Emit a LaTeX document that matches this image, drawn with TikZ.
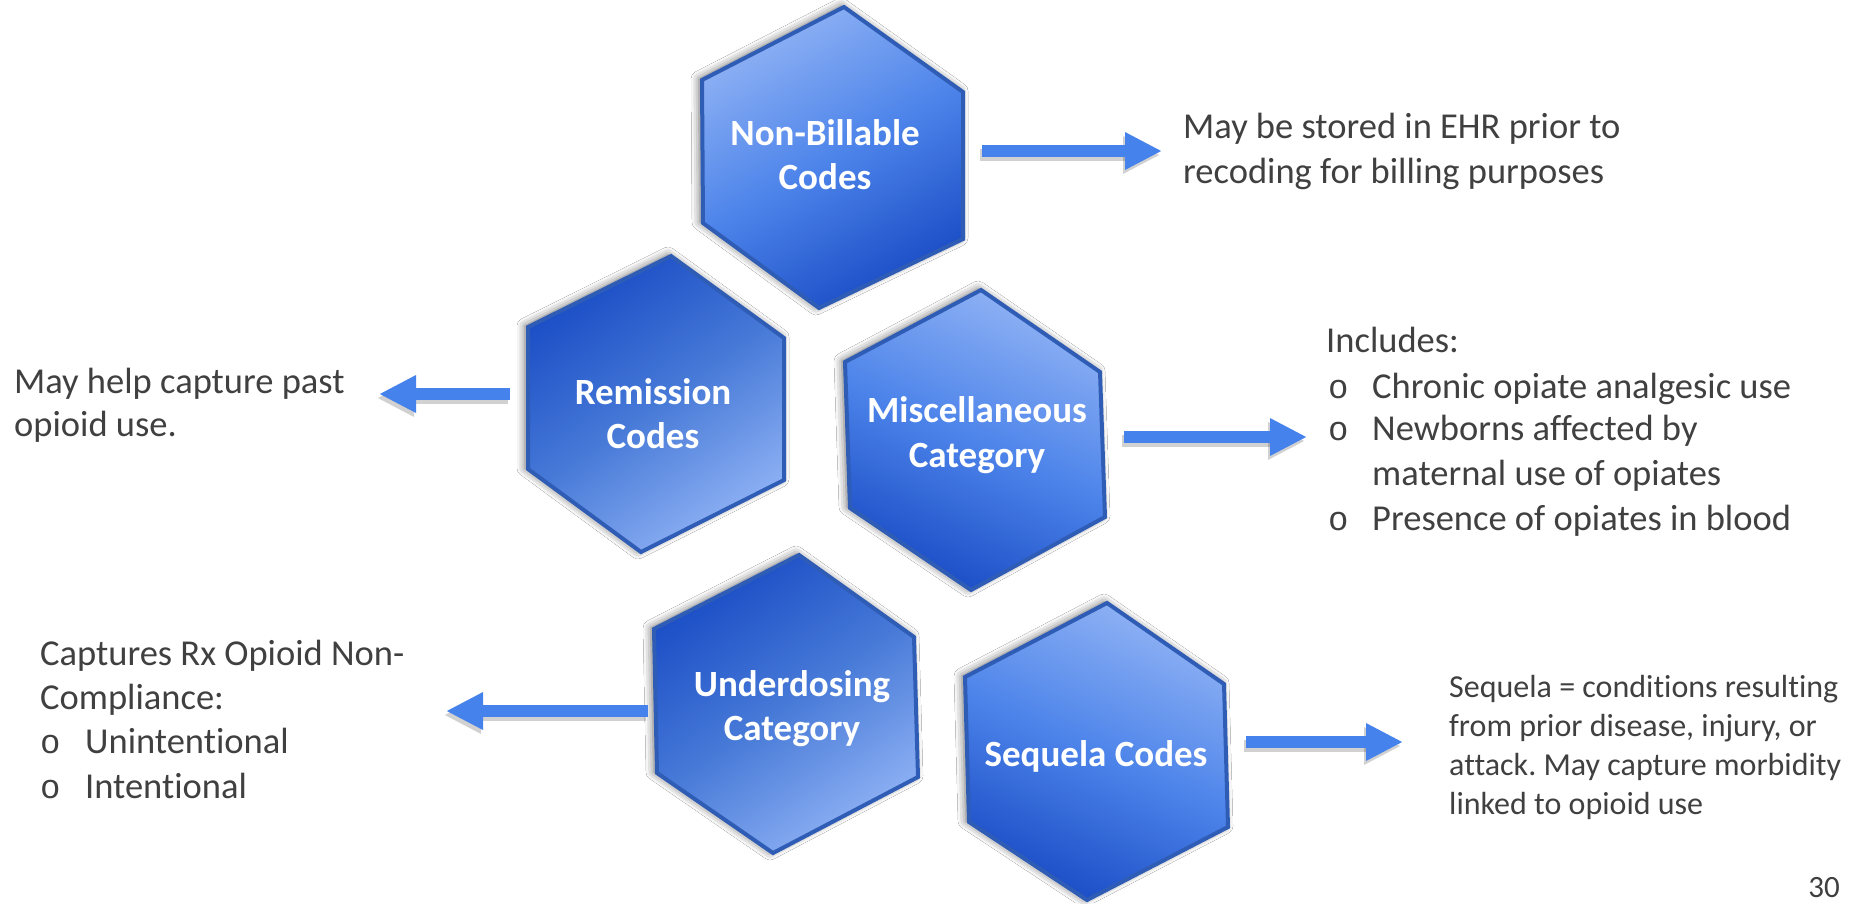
\documentclass[tikz,border=0pt]{standalone}
\usepackage{fontspec}
\setmainfont{Carlito}[Ligatures={NoCommon}]
\newfontfamily\bulletfont{Liberation Mono}
\usetikzlibrary{arrows.meta,shadows.blur}
\definecolor{txt}{HTML}{404040}
\definecolor{arr}{HTML}{4682EC}
\definecolor{hexedge}{HTML}{2F5DB6}
\definecolor{hlight}{HTML}{8EB1F4}
\definecolor{hmid}{HTML}{4D84EA}
\definecolor{hdark}{HTML}{1B4DC6}
\frenchspacing
\begin{document}
\begin{tikzpicture}[x=1pt,y=-1pt,
  hexa/.style={draw=hexedge, line width=4pt, line join=miter,
    blur shadow={shadow xshift=-3pt, shadow yshift=1pt, shadow blur radius=8pt, shadow opacity=60}},
  shadeA/.style={top color=hlight, bottom color=hdark, middle color=hmid, shading angle=30},
  shadeB/.style={top color=hdark, bottom color=hlight, middle color=hmid!92!black, shading angle=35},
  shadeC/.style={top color=hlight, bottom color=hdark, middle color=hmid, shading angle=-25},
  hextxt/.style={text=white, font=\bfseries\fontsize{37}{44}\selectfont, anchor=base, inner sep=0pt},
  body/.style={text=txt, font=\fontsize{36.5}{44}\selectfont, anchor=base west, inner sep=0pt},
  small/.style={text=txt, font=\fontsize{32}{39}\selectfont, anchor=base west, inner sep=0pt},
  bul/.style={text=txt, font=\bulletfont\fontsize{34}{40}\selectfont, anchor=base west, inner sep=0pt},
  blockarrow/.style={draw=arr, line width=12pt, -{Triangle[length=37pt, width=35pt]}}
]
\fill[white] (0,0) rectangle (1854,903);
\useasboundingbox (0,0) rectangle (1854,903);

% hexagons
\draw[hexa, shadeA] (844,7) -- (963,92) -- (963,239) -- (819,308) -- (703,223) -- (702,80) -- cycle;
\draw[hexa, shadeB] (671,256) -- (784,338) -- (784,480) -- (641,552) -- (528,469) -- (528,327) -- cycle;
\draw[hexa, shadeC] (981,290) -- (1100,372) -- (1105,517) -- (971,590) -- (850,508) -- (845,362) -- cycle;
\draw[hexa, shadeB] (799,555) -- (914,637) -- (918,777) -- (773,853) -- (657,773) -- (654,629) -- cycle;
\draw[hexa, shadeC] (1107,603) -- (1224,684) -- (1228,827) -- (1087,900) -- (969,822) -- (965,677) -- cycle;

% hexagon labels
\node[hextxt] (nb1) at (825,145) {Non-Billable};
\node[hextxt] (nb2) at (825,189) {Codes};
\node[hextxt] (rm1) at (653,404) {Remission};
\node[hextxt] (rm2) at (653,448) {Codes};
\node[hextxt] (mc1) at (977,422) {Miscellaneous};
\node[hextxt] (mc2) at (977,467) {Category};
\node[hextxt] (ud1) at (792,696) {Underdosing};
\node[hextxt] (ud2) at (792,740) {Category};
\node[hextxt] (sq1) at (1096,766) {Sequela Codes};

% arrows
\coordinate (nbA) at (982,151);  \coordinate (nbB) at (1162,151);
\coordinate (rmA) at (510,394);  \coordinate (rmB) at (379,394);
\coordinate (mcA) at (1124,437); \coordinate (mcB) at (1307,437);
\coordinate (udA) at (648,711);  \coordinate (udB) at (446,711);
\coordinate (sqA) at (1246,742); \coordinate (sqB) at (1403,742);
\foreach \a/\b in {nbA/nbB, rmA/rmB, mcA/mcB, udA/udB, sqA/sqB}{
  \draw[blockarrow, draw=black, opacity=0.18, transform canvas={shift={(-2pt,-4pt)}}] (\a) -- (\b);
  \draw[blockarrow] (\a) -- (\b);
}

% texts
\node[body] (t1) at (1183,138) {May be stored in EHR prior to};
\node[body] (t2) at (1183,183) {recoding for billing purposes};

\node[body] (r1) at (14,393) {May help capture past};
\node[body] (r2) at (14,436) {opioid use.};

\node[body] (m0) at (1326,352) {Includes:};
\node[bul]  (mb1) at (1328,398) {o};
\node[body] (m1) at (1372,398) {Chronic opiate analgesic use};
\node[bul]  (mb2) at (1328,440) {o};
\node[body] (m2) at (1372,440) {Newborns affected by};
\node[body] (m3) at (1372,485) {maternal use of opiates};
\node[bul]  (mb4) at (1328,530) {o};
\node[body] (m4) at (1372,530) {Presence of opiates in blood};

\node[body] (u1) at (40,665) {Captures Rx Opioid Non-};
\node[body] (u2) at (40,709) {Compliance:};
\node[bul]  (ub3) at (40,753) {o};
\node[body] (u3) at (85,753) {Unintentional};
\node[bul]  (ub4) at (40,798) {o};
\node[body] (u4) at (85,798) {Intentional};

\node[small] (s1) at (1449,697) {Sequela = conditions resulting};
\node[small] (s2) at (1449,736) {from prior disease, injury, or};
\node[small] (s3) at (1449,775) {attack. May capture morbidity};
\node[small] (s4) at (1449,814) {linked to opioid use};

\node[small, anchor=base east, font=\fontsize{31}{37}\selectfont] (pg) at (1840,897) {30};
\end{tikzpicture}
\end{document}
